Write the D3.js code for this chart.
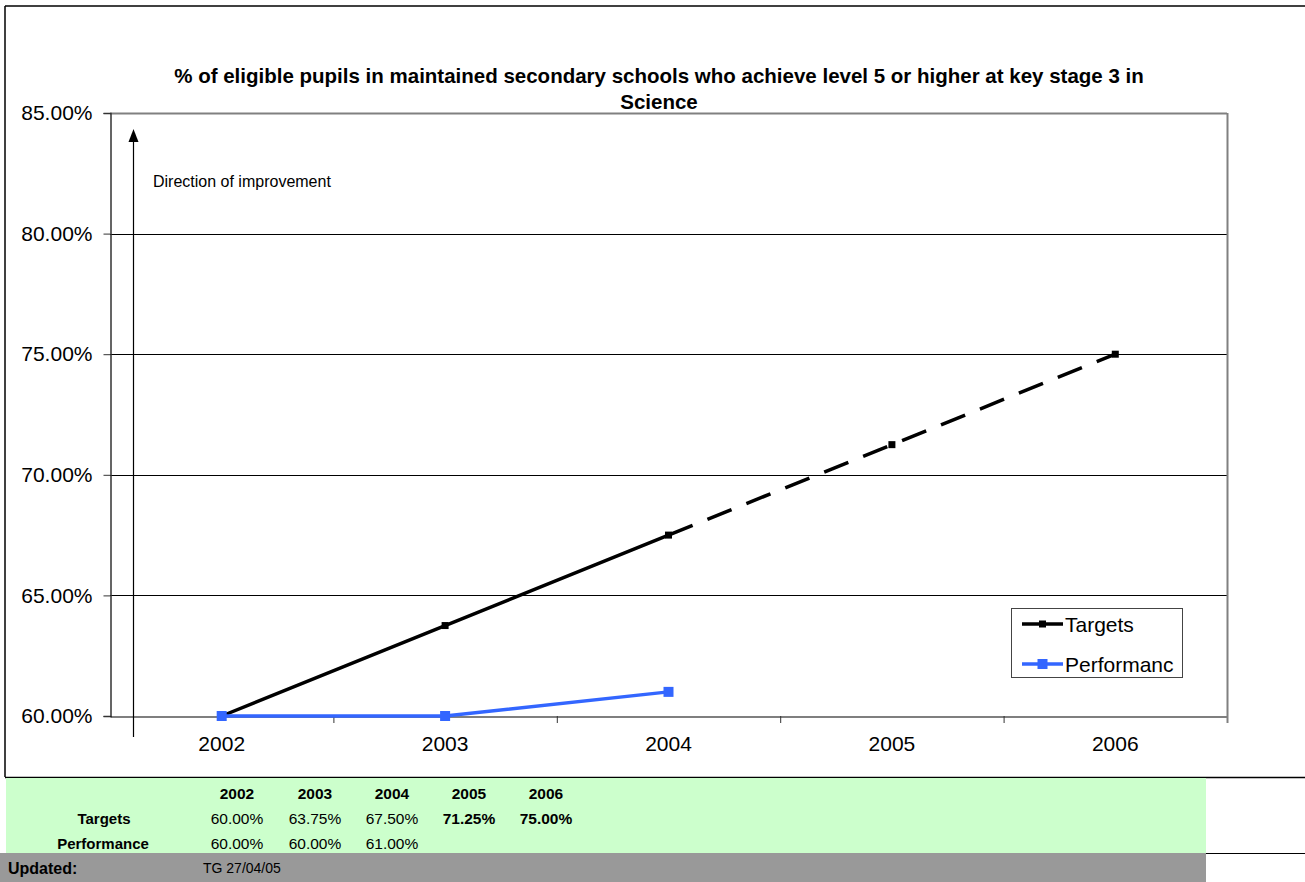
<!DOCTYPE html>
<html>
<head>
<meta charset="utf-8">
<script src="https://cdnjs.cloudflare.com/ajax/libs/d3/7.8.5/d3.min.js"></script>
<style>
  html, body { margin: 0; padding: 0; background: #fff; }
  svg { display: block; font-family: Arial, "Liberation Sans", sans-serif; }
</style>
</head>
<body>
<svg id="chart" width="1305" height="882"></svg>
<script>
const years = ["2002", "2003", "2004", "2005", "2006"];
const targets = [60.00, 63.75, 67.50, 71.25, 75.00];
const performance = [60.00, 60.00, 61.00];
const yTicks = [60, 65, 70, 75, 80, 85];
const titleLines = ["% of eligible pupils in maintained secondary schools who achieve level 5 or higher at key stage 3 in", "Science"];
const tableTargets = ["60.00%", "63.75%", "67.50%", "71.25%", "75.00%"];
const tableTargetsBold = [false, false, false, true, true];
const tablePerformance = ["60.00%", "60.00%", "61.00%"];
const legendLabels = ["Targets", "Performanc"];
const updatedText = "TG 27/04/05";

const svg = d3.select("#chart");
const L = 110, R = 1227, T = 113, B = 716;
const x = d3.scaleBand().domain(years).range([L, R]).padding(0);
const cx = d => x(d) + x.bandwidth() / 2;
const y = d3.scaleLinear().domain([60, 85]).range([B, T]);

// outer frame
svg.append("line").attr("x1", 5).attr("x2", 5).attr("y1", 6).attr("y2", 777).attr("stroke", "#000").attr("stroke-width", 1.5);
svg.append("line").attr("x1", 5).attr("x2", 1305).attr("y1", 6).attr("y2", 6).attr("stroke", "#000").attr("stroke-width", 1.5);
svg.append("line").attr("x1", 5).attr("x2", 1305).attr("y1", 777.5).attr("y2", 777.5).attr("stroke", "#000").attr("stroke-width", 1.5);

// title
svg.append("g").selectAll("text").data(titleLines).join("text")
  .attr("x", 659).attr("y", (d, i) => 83 + i * 26)
  .attr("text-anchor", "middle").attr("font-size", 20.5).attr("font-weight", "bold").text(d => d);

// gridlines
svg.append("g").selectAll("line").data(yTicks.filter(v => v > 60 && v < 85)).join("line")
  .attr("x1", L).attr("x2", R).attr("y1", d => Math.round(y(d)) + 0.5).attr("y2", d => Math.round(y(d)) + 0.5)
  .attr("stroke", "#000").attr("stroke-width", 1);

// plot border top/right (gray)
svg.append("line").attr("x1", L).attr("x2", R).attr("y1", T + 0.5).attr("y2", T + 0.5).attr("stroke", "#808080").attr("stroke-width", 2);
svg.append("line").attr("x1", R + 0.5).attr("x2", R + 0.5).attr("y1", T).attr("y2", B).attr("stroke", "#808080").attr("stroke-width", 2);

// y axis
const yAxis = d3.axisLeft(y).tickValues(yTicks).tickSize(7).tickPadding(11).tickFormat(d => d.toFixed(2) + "%");
const gy = svg.append("g").attr("transform", `translate(${L + 0.5},0)`).call(yAxis);
gy.select(".domain").attr("stroke", "#333").attr("stroke-width", 1.5);
gy.selectAll(".tick line").attr("stroke", "#333");
gy.selectAll(".tick text").attr("font-size", 21).attr("font-family", "Arial, 'Liberation Sans', sans-serif").attr("fill", "#000");

// x axis
const xAxis = d3.axisBottom(x).tickSize(0).tickPadding(20);
const gx = svg.append("g").attr("transform", `translate(0,${B + 0.5})`).call(xAxis);
gx.select(".domain").attr("stroke", "#000").attr("stroke-width", 1.2);
gx.selectAll(".tick text").attr("font-size", 21).attr("font-family", "Arial, 'Liberation Sans', sans-serif").attr("fill", "#000");
// x tick marks at category boundaries
svg.append("g").selectAll("line").data(years.slice(1)).join("line")
  .attr("x1", d => x(d) + 0.5).attr("x2", d => x(d) + 0.5).attr("y1", B).attr("y2", B + 7)
  .attr("stroke", "#333");
svg.append("line").attr("x1", R + 0.5).attr("x2", R + 0.5).attr("y1", B).attr("y2", B + 7).attr("stroke", "#808080").attr("stroke-width", 2);

// direction arrow
svg.append("line").attr("x1", 133.5).attr("x2", 133.5).attr("y1", 737).attr("y2", 138).attr("stroke", "#000").attr("stroke-width", 1.2);
svg.append("path").attr("d", "M133.5,129 L128.5,142 L138.5,142 Z").attr("fill", "#000");
svg.append("text").attr("x", 153).attr("y", 187).attr("font-size", 16).text("Direction of improvement");

// targets line
const lineGen = d3.line().x(d => cx(d.year)).y(d => y(d.value));
const tData = years.map((yr, i) => ({ year: yr, value: targets[i] }));
svg.append("path").datum(tData.slice(0, 3)).attr("d", lineGen)
  .attr("fill", "none").attr("stroke", "#000").attr("stroke-width", 3.5);
svg.append("path").datum(tData.slice(2)).attr("d", lineGen)
  .attr("fill", "none").attr("stroke", "#000").attr("stroke-width", 3.5).attr("stroke-dasharray", "26,16");
svg.append("g").selectAll("rect").data(tData).join("rect")
  .attr("x", d => cx(d.year) - 3.5).attr("y", d => y(d.value) - 3.5).attr("width", 7).attr("height", 7).attr("fill", "#000");

// performance line
const pData = performance.map((v, i) => ({ year: years[i], value: v }));
svg.append("path").datum(pData).attr("d", lineGen)
  .attr("fill", "none").attr("stroke", "#3366FF").attr("stroke-width", 3.5);
svg.append("g").selectAll("rect").data(pData).join("rect")
  .attr("x", d => cx(d.year) - 5).attr("y", d => y(d.value) - 5).attr("width", 10).attr("height", 10).attr("fill", "#3366FF");

// legend
const lg = svg.append("g");
lg.append("rect").attr("x", 1011.5).attr("y", 608.5).attr("width", 171).attr("height", 69).attr("fill", "#fff").attr("stroke", "#444");
const legItems = [{ label: legendLabels[0], color: "#000", m: 7 }, { label: legendLabels[1], color: "#3366FF", m: 10 }];
legItems.forEach((it, i) => {
  const ly = 624 + i * 40;
  lg.append("line").attr("x1", 1022).attr("x2", 1063).attr("y1", ly).attr("y2", ly).attr("stroke", it.color).attr("stroke-width", 3.5);
  lg.append("rect").attr("x", 1042.5 - it.m / 2).attr("y", ly - it.m / 2).attr("width", it.m).attr("height", it.m).attr("fill", it.color);
  lg.append("text").attr("x", 1065).attr("y", ly + 7.5).attr("font-size", 21).text(it.label);
});

// data table
svg.append("rect").attr("x", 6).attr("y", 778).attr("width", 1200).attr("height", 75).attr("fill", "#CCFFCC");
svg.append("rect").attr("x", 0).attr("y", 853).attr("width", 1206).attr("height", 29).attr("fill", "#999999");
svg.append("line").attr("x1", 1206).attr("x2", 1305).attr("y1", 853.5).attr("y2", 853.5).attr("stroke", "#000").attr("stroke-width", 1.2);

const colX = [237, 315, 392, 469, 546];
const tbl = svg.append("g").attr("font-size", 15.5);
tbl.selectAll("text.hdr").data(years).join("text").attr("class", "hdr")
  .attr("x", (d, i) => colX[i]).attr("y", 799).attr("text-anchor", "middle").attr("font-weight", "bold").text(d => d);
tbl.append("text").attr("x", 104).attr("y", 824).attr("text-anchor", "middle").attr("font-weight", "bold").attr("font-size", 15).text("Targets");
tbl.append("text").attr("x", 103).attr("y", 849).attr("text-anchor", "middle").attr("font-weight", "bold").attr("font-size", 15).text("Performance");
tbl.selectAll("text.tv").data(tableTargets).join("text").attr("class", "tv")
  .attr("x", (d, i) => colX[i]).attr("y", 824).attr("text-anchor", "middle")
  .attr("font-weight", (d, i) => tableTargetsBold[i] ? "bold" : "normal").text(d => d);
tbl.selectAll("text.pv").data(tablePerformance).join("text").attr("class", "pv")
  .attr("x", (d, i) => colX[i]).attr("y", 849).attr("text-anchor", "middle").text(d => d);

svg.append("text").attr("x", 8).attr("y", 874).attr("font-size", 16).attr("font-weight", "bold").text("Updated:");
svg.append("text").attr("x", 203).attr("y", 873).attr("font-size", 14).text(updatedText);
</script>
</body>
</html>
